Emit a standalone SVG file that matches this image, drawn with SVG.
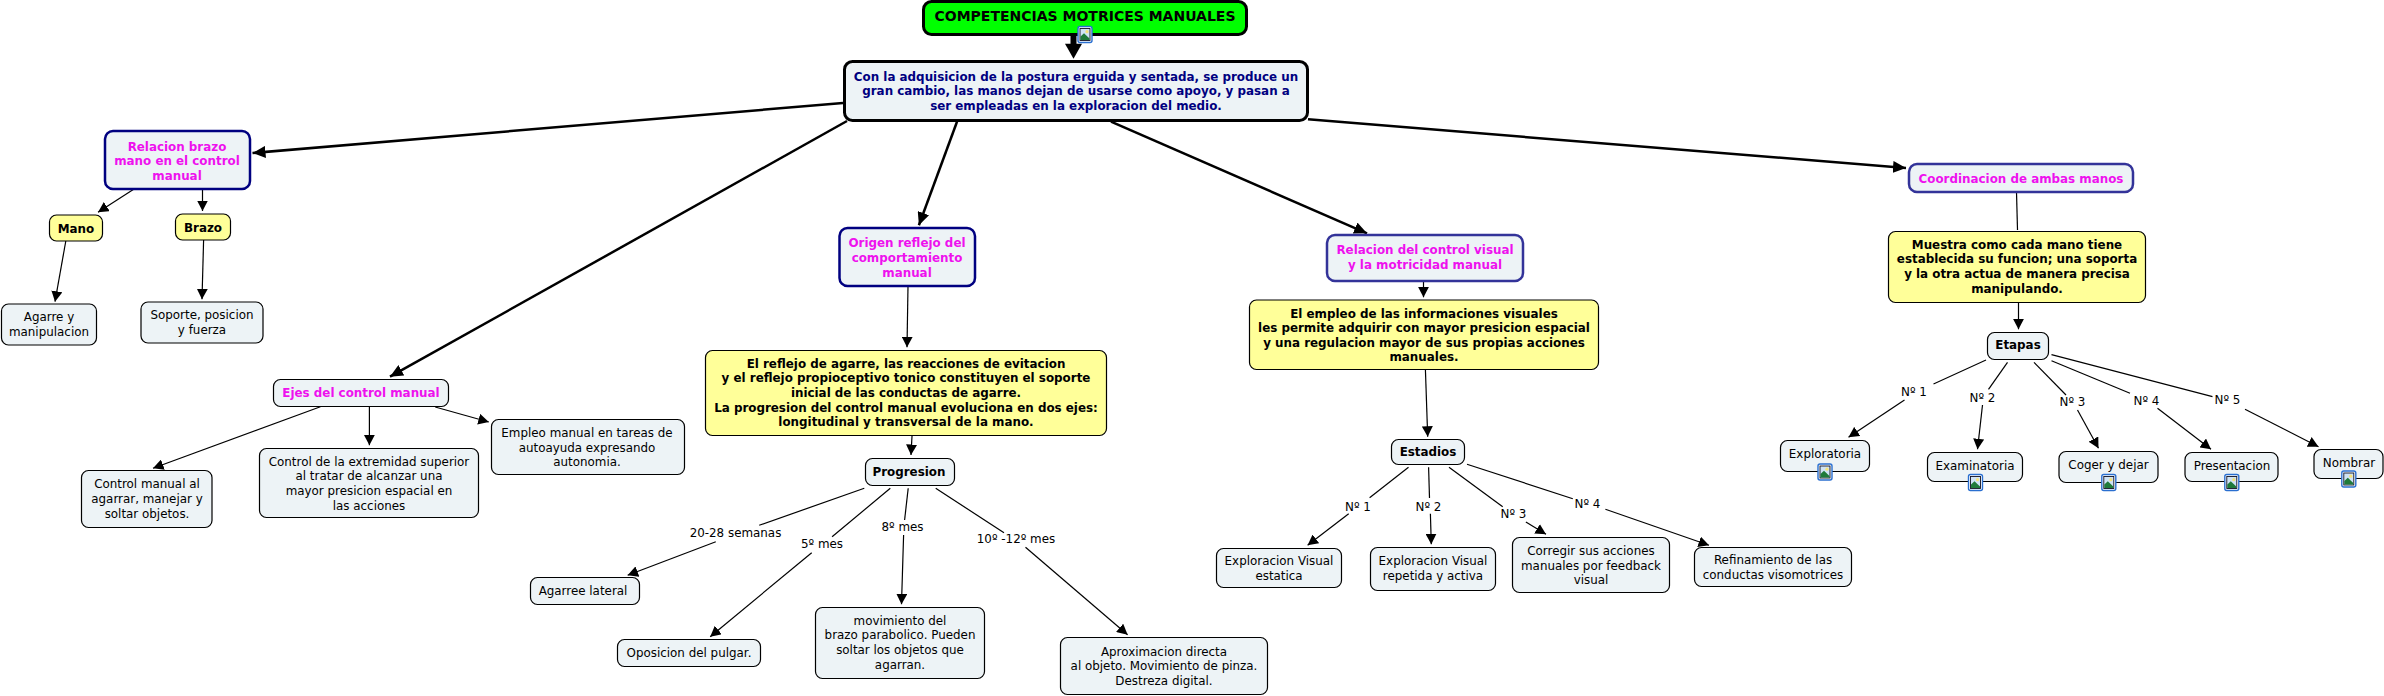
<svg xmlns="http://www.w3.org/2000/svg" width="2384" height="696" viewBox="0 0 2384 696">
<style>
text{font-family:"DejaVu Sans",Verdana,sans-serif;font-size:11.9px;text-anchor:middle;fill:#000}
.b{font-weight:bold}.m{fill:#ee11ee;font-weight:bold}.n{fill:#000080;font-weight:bold}
.c{fill:#edf3f6;stroke:#000;stroke-width:1.2}
.y{fill:#ffff99;stroke:#000;stroke-width:1.2}
.p{fill:#edf3f6;stroke:#000080;stroke-width:2.5}
.q{fill:#edf3f6;stroke:#333399;stroke-width:2.5}
.l{fill:none;stroke:#000;stroke-width:1.2;marker-end:url(#a)}
.t{fill:none;stroke:#000;stroke-width:2.5;marker-end:url(#b)}
.h{fill:none;stroke:#000;stroke-width:1.2}
</style>
<defs>
<marker id="a" viewBox="0 0 10.500 11" refX="10.500" refY="5.500" markerWidth="10.500" markerHeight="11" markerUnits="userSpaceOnUse" orient="auto"><path d="M0 0L10.500 5.500L0 11z" fill="#000"/></marker>
<marker id="b" viewBox="0 0 13 12" refX="13" refY="6" markerWidth="13" markerHeight="12" markerUnits="userSpaceOnUse" orient="auto"><path d="M0 0L13 6L0 12z" fill="#000"/></marker>
<g id="ic"><rect x="-7" y="-8" width="14" height="16" rx="2" fill="#fff" stroke="#2a6fd0" stroke-width="1.4"/><rect x="-5" y="-6" width="10" height="12" fill="#cfe3f5" stroke="#112" stroke-width=".9"/><circle cx="2" cy="-2.800" r="1.600" fill="#f5e27a"/><path d="M-4.500 5.500V2L-1 -1.200L4.500 4V5.500z" fill="#1f7a3a"/></g>
</defs>
<g id="connectors">
<path d="M1073.500 35V45" stroke="#000" stroke-width="6" fill="none"/><path d="M1065 43.700H1082L1073.500 58.700z" fill="#000"/>
<path class="t" d="M843 103L252.500 153"/>
<path class="t" d="M847 121L390 376.700"/>
<path class="t" d="M957 121.700L918.900 225.300"/>
<path class="t" d="M1111 121.700L1367 233.300"/>
<path class="t" d="M1308 119.300L1906 168"/>
<path class="l" d="M133.700 189.300L98 212.300"/>
<path class="l" d="M202.500 189V211"/>
<path class="l" d="M65.800 241L55 301.700"/>
<path class="l" d="M203.600 240L202 299.300"/>
<path class="l" d="M320.400 406.700L153 468.300"/>
<path class="l" d="M369.400 406.700V445.300"/>
<path class="l" d="M435.200 407L488.800 422"/>
<path class="l" d="M908 286L907 347.300"/>
<path class="l" d="M1423.500 281V297.300"/>
<path class="l" d="M912 436L911 455"/>
<path class="h" d="M864.300 488.300L759.200 525.300"/><path class="l" d="M715.800 541.700L627.600 575.300"/>
<path class="h" d="M890.300 488.300L832.100 536.700"/><path class="l" d="M811.700 552.700L710.200 636.700"/>
<path class="h" d="M908.200 488.300L904.600 520"/><path class="l" d="M903.600 535L901.500 604.300"/>
<path class="h" d="M935.700 488.300L1004 532.700"/><path class="l" d="M1025.500 547.300L1127.600 634.700"/>
<path class="l" d="M1425.400 369.300L1427.700 436.700"/>
<path class="h" d="M1408.500 467.300L1369.600 497.700"/><path class="l" d="M1348.700 513.700L1307.600 545.300"/>
<path class="h" d="M1428.600 467.300L1429.500 498"/><path class="l" d="M1430.400 513.700L1431.300 544.300"/>
<path class="h" d="M1449 467.300L1502.700 506.700"/><path class="l" d="M1525.900 522L1546 534.300"/>
<path class="h" d="M1467 464.300L1572.800 498.700"/><path class="l" d="M1605.400 509.300L1709 545.300"/>
<path class="h" d="M2016.500 192L2017.500 230"/>
<path class="l" d="M2018.500 302.700V329.300"/>
<path class="h" d="M1986 360L1933.500 384"/><path class="l" d="M1904.500 400L1848.500 437.300"/>
<path class="h" d="M2007.500 362.300L1988.500 389.300"/><path class="l" d="M1982.500 405L1977.500 449.300"/>
<path class="h" d="M2034 362.300L2066 395"/><path class="l" d="M2077.500 410L2098.500 448.300"/>
<path class="h" d="M2051.500 360.700L2130 393.300"/><path class="l" d="M2157.500 408.300L2211 449.300"/>
<path class="h" d="M2051.500 354.700L2212.500 396.700"/><path class="l" d="M2245 409.300L2318.500 446.700"/>
</g>
<g id="root"><rect x="923.500" y="1.500" width="323" height="33" rx="8" fill="#00ff00" stroke="#000" stroke-width="3"/><text class="b" x="1085" y="21" style="font-size:14px">COMPETENCIAS MOTRICES MANUALES</text><use href="#ic" x="1085" y="34.500"/></g>
<g id="main"><rect x="844.500" y="61.500" width="463" height="59" rx="8" fill="#edf3f6" stroke="#000" stroke-width="3"/><text class="n"><tspan x="1076" y="80.500">Con la adquisicion de la postura erguida y sentada, se produce un</tspan><tspan x="1076" y="95">gran cambio, las manos dejan de usarse como apoyo, y pasan a</tspan><tspan x="1076" y="109.500">ser empleadas en la exploracion del medio.</tspan></text></g>
<g id="rel-brazo"><rect class="p" x="105" y="131" width="145" height="58" rx="8"/><text class="m"><tspan x="177" y="150.500">Relacion brazo</tspan><tspan x="177" y="165">mano en el control</tspan><tspan x="177" y="179.500">manual</tspan></text></g>
<g id="mano"><rect class="y" x="49.500" y="215" width="53" height="26" rx="7"/><text class="b" x="76" y="233">Mano</text></g>
<g id="brazo"><rect class="y" x="175.500" y="214" width="55" height="26" rx="7"/><text class="b" x="203" y="232">Brazo</text></g>
<g id="agarre"><rect class="c" x="1.500" y="304" width="95" height="41" rx="7"/><text><tspan x="49" y="321">Agarre y</tspan><tspan x="49" y="335.500">manipulacion</tspan></text></g>
<g id="soporte"><rect class="c" x="141" y="302" width="122" height="41" rx="7"/><text><tspan x="202" y="319">Soporte, posicion</tspan><tspan x="202" y="333.500">y fuerza</tspan></text></g>
<g id="ejes"><rect class="c" x="273.500" y="379.500" width="175" height="27" rx="7"/><text class="m" x="361" y="396.500">Ejes del control manual</text></g>
<g id="ctrl1"><rect class="c" x="81.500" y="470.500" width="130.500" height="57" rx="7"/><text><tspan x="147" y="488">Control manual al</tspan><tspan x="147" y="503">agarrar, manejar y</tspan><tspan x="147" y="517.500">soltar objetos.</tspan></text></g>
<g id="ctrl2"><rect class="c" x="259.500" y="448.500" width="219" height="69" rx="7"/><text><tspan x="369" y="465.500">Control de la extremidad superior</tspan><tspan x="369" y="480">al tratar de alcanzar una</tspan><tspan x="369" y="494.500">mayor presicion espacial en</tspan><tspan x="369" y="509.500">las acciones</tspan></text></g>
<g id="empleo"><rect class="c" x="491.500" y="419.500" width="193" height="55" rx="7"/><text><tspan x="587" y="437">Empleo manual en tareas de</tspan><tspan x="587" y="451.500">autoayuda expresando</tspan><tspan x="587" y="466">autonomia.</tspan></text></g>
<g id="origen"><rect class="p" x="839.500" y="228" width="135.500" height="58" rx="8"/><text class="m"><tspan x="907" y="247">Origen reflejo del</tspan><tspan x="907" y="262">comportamiento</tspan><tspan x="907" y="276.500">manual</tspan></text></g>
<g id="rel-visual"><rect class="q" x="1327" y="235" width="196" height="46" rx="8"/><text class="m"><tspan x="1425" y="254">Relacion del control visual</tspan><tspan x="1425" y="269">y la motricidad manual</tspan></text></g>
<g id="coord"><rect class="q" x="1909" y="164" width="224" height="28" rx="8"/><text class="m" x="2021" y="182.500">Coordinacion de ambas manos</text></g>
<g id="y1"><rect class="y" x="705.500" y="350.500" width="401" height="85" rx="7"/><text class="b"><tspan x="906" y="367.500">El reflejo de agarre, las reacciones de evitacion</tspan><tspan x="906" y="382">y el reflejo propioceptivo tonico constituyen el soporte</tspan><tspan x="906" y="396.500">inicial de las conductas de agarre.</tspan><tspan x="906" y="411.500">La progresion del control manual evoluciona en dos ejes:</tspan><tspan x="906" y="426">longitudinal y transversal de la mano.</tspan></text></g>
<g id="y2"><rect class="y" x="1249.500" y="300" width="349" height="69.500" rx="7"/><text class="b"><tspan x="1424" y="317.500">El empleo de las informaciones visuales</tspan><tspan x="1424" y="332">les permite adquirir con mayor presicion espacial</tspan><tspan x="1424" y="346.500">y una regulacion mayor de sus propias acciones</tspan><tspan x="1424" y="361">manuales.</tspan></text></g>
<g id="y3"><rect class="y" x="1888.500" y="231.500" width="257" height="71" rx="7"/><text class="b"><tspan x="2017" y="248.500">Muestra como cada mano tiene</tspan><tspan x="2017" y="263">establecida su funcion; una soporta</tspan><tspan x="2017" y="277.500">y la otra actua de manera precisa</tspan><tspan x="2017" y="292.500">manipulando.</tspan></text></g>
<g id="progresion"><rect class="c" x="865.500" y="458.500" width="89" height="27" rx="7"/><text class="b" x="909" y="475.500">Progresion</text></g>
<g id="agarree"><rect class="c" x="530.500" y="577.500" width="109" height="27" rx="7"/><text x="583" y="594.500">Agarree lateral</text></g>
<g id="oposicion"><rect class="c" x="617.500" y="639.500" width="143" height="27" rx="7"/><text x="689" y="656.500">Oposicion del pulgar.</text></g>
<g id="movimiento"><rect class="c" x="815.500" y="607.500" width="169" height="71" rx="7"/><text><tspan x="900" y="624.500">movimiento del</tspan><tspan x="900" y="639">brazo parabolico. Pueden</tspan><tspan x="900" y="653.500">soltar los objetos que</tspan><tspan x="900" y="668.500">agarran.</tspan></text></g>
<g id="aprox"><rect class="c" x="1060.500" y="637.500" width="207" height="57" rx="7"/><text><tspan x="1164" y="655.500">Aproximacion directa</tspan><tspan x="1164" y="670">al objeto. Movimiento de pinza.</tspan><tspan x="1164" y="684.500">Destreza digital.</tspan></text></g>
<g id="estadios"><rect class="c" x="1391.500" y="439.500" width="73" height="25" rx="7"/><text class="b" x="1428" y="456">Estadios</text></g>
<g id="e1"><rect class="c" x="1216.500" y="548.500" width="125" height="39" rx="7"/><text><tspan x="1279" y="565">Exploracion Visual</tspan><tspan x="1279" y="579.500">estatica</tspan></text></g>
<g id="e2"><rect class="c" x="1370.500" y="547.500" width="125" height="43" rx="7"/><text><tspan x="1433" y="565">Exploracion Visual</tspan><tspan x="1433" y="579.500">repetida y activa</tspan></text></g>
<g id="e3"><rect class="c" x="1512.500" y="537.500" width="157" height="55" rx="7"/><text><tspan x="1591" y="555">Corregir sus acciones</tspan><tspan x="1591" y="569.500">manuales por feedback</tspan><tspan x="1591" y="584">visual</tspan></text></g>
<g id="e4"><rect class="c" x="1694.500" y="547.500" width="157" height="39" rx="7"/><text><tspan x="1773" y="564">Refinamiento de las</tspan><tspan x="1773" y="578.500">conductas visomotrices</tspan></text></g>
<g id="etapas"><rect class="c" x="1987.500" y="332.500" width="61" height="27" rx="7"/><text class="b" x="2018" y="349">Etapas</text></g>
<g id="exploratoria"><rect class="c" x="1780.500" y="440.500" width="89" height="31" rx="7"/><text x="1825" y="457.500">Exploratoria</text><use href="#ic" x="1825" y="472"/></g>
<g id="examinatoria"><rect class="c" x="1927.500" y="452.500" width="95" height="29" rx="7"/><text x="1975" y="470">Examinatoria</text><use href="#ic" x="1975.500" y="482.500"/></g>
<g id="coger"><rect class="c" x="2059" y="451.500" width="99" height="31" rx="7"/><text x="2108.500" y="468.500">Coger y dejar</text><use href="#ic" x="2108.800" y="482.500"/></g>
<g id="presentacion"><rect class="c" x="2185" y="452.500" width="93" height="29" rx="7"/><text x="2232" y="470">Presentacion</text><use href="#ic" x="2231.800" y="482.500"/></g>
<g id="nombrar"><rect class="c" x="2314" y="449.500" width="69" height="29" rx="7"/><text x="2349" y="466.500">Nombrar</text><use href="#ic" x="2348.800" y="479"/></g>
<g id="labels">
<text x="735.500" y="537">20-28 semanas</text><text x="822" y="548">5º mes</text><text x="902.500" y="531">8º mes</text><text x="1016" y="543">10º -12º mes</text>
<text x="1358" y="510.500">Nº 1</text><text x="1428.500" y="510.500">Nº 2</text><text x="1513.500" y="518">Nº 3</text><text x="1587.500" y="508">Nº 4</text>
<text x="1914" y="396">Nº 1</text><text x="1982.500" y="402">Nº 2</text><text x="2072.500" y="406">Nº 3</text><text x="2146.500" y="404.500">Nº 4</text><text x="2227.500" y="403.500">Nº 5</text>
</g>
</svg>
